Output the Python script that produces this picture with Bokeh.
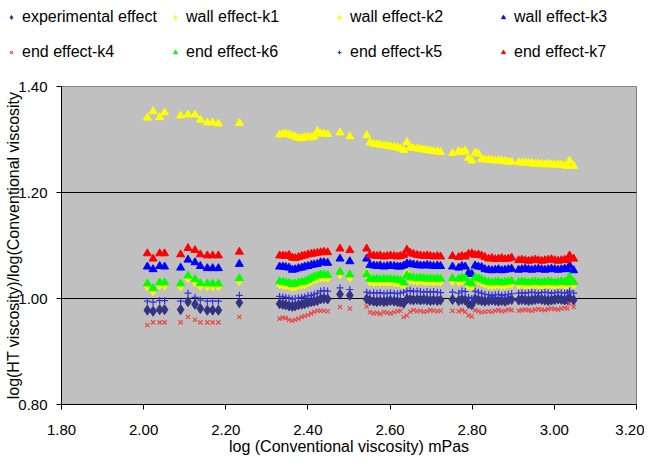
from bokeh.plotting import figure
from bokeh.layouts import column, row
from bokeh.models import Range1d, FixedTicker, NumeralTickFormatter, Legend, LegendItem
from bokeh.embed import file_html
from bokeh.resources import INLINE

# log(conventional viscosity) mPas
x_visc = [2.009, 2.023, 2.039, 2.051, 2.090, 2.108, 2.125, 2.138, 2.155, 2.168, 2.182, 2.233,
          2.331, 2.339, 2.346, 2.354, 2.362, 2.369, 2.377, 2.385, 2.392, 2.400, 2.408, 2.415, 2.423,
          2.431, 2.439, 2.448,
          2.478, 2.502,
          2.543, 2.551, 2.560, 2.568, 2.576, 2.585, 2.593, 2.601, 2.610, 2.618,
          2.625, 2.633, 2.641, 2.649, 2.657, 2.666, 2.674, 2.682, 2.690, 2.698, 2.706, 2.715, 2.723,
          2.752,
          2.767, 2.775, 2.783, 2.791, 2.799, 2.807, 2.815, 2.823, 2.831, 2.840, 2.848, 2.856, 2.864, 2.872, 2.880, 2.888, 2.896,
          2.913, 2.921, 2.929, 2.937, 2.945, 2.953, 2.961, 2.969, 2.977, 2.985, 2.993, 3.001, 3.009, 3.017, 3.025, 3.032,
          3.037, 3.047]

experimental_effect = [0.978, 0.976, 0.979, 0.979, 0.979, 0.994, 0.989, 0.981, 0.978, 0.978, 0.978, 0.992,
                       0.990, 0.989, 0.988, 0.986, 0.985, 0.986, 0.988, 0.989, 0.990, 0.992, 0.994, 0.995, 0.996,
                       0.999, 1.000, 0.999,
                       1.008, 1.006,
                       0.999, 0.996, 0.995, 0.994, 0.995, 0.994, 0.995, 0.996, 0.995, 0.994,
                       0.993, 0.991, 0.999, 0.998, 0.997, 0.998, 0.997, 0.998, 0.997, 0.996, 0.997, 0.996, 0.997,
                       0.998,
                       0.996, 0.998, 0.997, 0.990, 0.988, 0.999, 0.997, 0.996, 0.995, 0.996, 0.997, 0.996, 0.995, 0.996, 0.995, 0.997, 0.998,
                       0.997, 0.998, 0.997, 0.996, 0.997, 0.998, 0.999, 0.998, 0.997, 0.996, 0.997, 0.998, 0.999, 0.998, 0.997, 0.998,
                       1.001, 0.997]

wall_k1 = [1.024, 1.015, 1.026, 1.026, 1.024, 1.039, 1.032, 1.025, 1.024, 1.024, 1.024, 1.034,
           1.028, 1.027, 1.026, 1.025, 1.023, 1.024, 1.026, 1.027, 1.028, 1.031, 1.034, 1.037, 1.039,
           1.041, 1.041, 1.040,
           1.046, 1.041,
           1.047, 1.033, 1.032, 1.033, 1.032, 1.033, 1.032, 1.033, 1.032, 1.031,
           1.030, 1.026, 1.047, 1.036, 1.035, 1.034, 1.035, 1.034, 1.033, 1.034, 1.033, 1.034, 1.033,
           1.034,
           1.033, 1.035, 1.034, 1.026, 1.024, 1.036, 1.034, 1.032, 1.029, 1.027, 1.026, 1.027, 1.028, 1.026, 1.027, 1.028, 1.029,
           1.027, 1.028, 1.027, 1.026, 1.027, 1.028, 1.027, 1.026, 1.027, 1.028, 1.027, 1.026, 1.027, 1.028, 1.027, 1.026,
           1.037, 1.027]

wall_k2 = [1.341, 1.353, 1.342, 1.351, 1.345, 1.347, 1.347, 1.337, 1.332, 1.332, 1.330, 1.331,
           1.309, 1.310, 1.311, 1.309, 1.307, 1.305, 1.303, 1.302, 1.304, 1.305, 1.304, 1.306, 1.316,
           1.311, 1.311, 1.310,
           1.313, 1.306,
           1.308, 1.294, 1.292, 1.291, 1.290, 1.289, 1.288, 1.287, 1.286, 1.285,
           1.283, 1.280, 1.295, 1.285, 1.284, 1.283, 1.282, 1.281, 1.280, 1.279, 1.278, 1.277, 1.276,
           1.274,
           1.278, 1.276, 1.279, 1.265, 1.260, 1.275, 1.273, 1.263, 1.262, 1.262, 1.261, 1.260, 1.261, 1.260, 1.259, 1.258, 1.258,
           1.257, 1.256, 1.257, 1.256, 1.255, 1.254, 1.255, 1.254, 1.253, 1.254, 1.253, 1.252, 1.253, 1.252, 1.251, 1.250,
           1.260, 1.250]

wall_k3 = [1.060, 1.055, 1.061, 1.060, 1.058, 1.073, 1.068, 1.061, 1.057, 1.057, 1.057, 1.065,
           1.060, 1.060, 1.059, 1.058, 1.054, 1.055, 1.057, 1.058, 1.060, 1.061, 1.063, 1.064, 1.065,
           1.068, 1.068, 1.067,
           1.075, 1.070,
           1.075, 1.063, 1.062, 1.061, 1.062, 1.060, 1.061, 1.062, 1.061, 1.060,
           1.060, 1.062, 1.066, 1.065, 1.064, 1.063, 1.062, 1.062, 1.063, 1.062, 1.061, 1.062, 1.061,
           1.060,
           1.058, 1.061, 1.060, 1.048, 1.046, 1.062, 1.060, 1.059, 1.055, 1.054, 1.053, 1.054, 1.055, 1.053, 1.054, 1.055, 1.056,
           1.054, 1.055, 1.056, 1.055, 1.054, 1.055, 1.056, 1.055, 1.054, 1.055, 1.056, 1.055, 1.054, 1.055, 1.056, 1.055,
           1.062, 1.053]

end_k4 = [0.950, 0.955, 0.955, 0.955, 0.955, 0.965, 0.960, 0.955, 0.955, 0.955, 0.955, 0.965,
          0.962, 0.964, 0.963, 0.960, 0.958, 0.960, 0.962, 0.965, 0.967, 0.969, 0.972, 0.975, 0.977,
          0.977, 0.977, 0.976,
          0.984, 0.981,
          0.985, 0.974, 0.972, 0.973, 0.971, 0.974, 0.973, 0.972, 0.974, 0.976,
          0.977, 0.965, 0.968, 0.975, 0.978, 0.976, 0.977, 0.975, 0.976, 0.978, 0.977, 0.976, 0.977,
          0.977,
          0.976, 0.978, 0.975, 0.968, 0.966, 0.978, 0.976, 0.974, 0.975, 0.976, 0.975, 0.977, 0.978, 0.976, 0.977, 0.979, 0.978,
          0.977, 0.978, 0.979, 0.978, 0.977, 0.979, 0.980, 0.979, 0.978, 0.980, 0.981, 0.980, 0.979, 0.981, 0.982, 0.981,
          0.990, 0.984]

end_k6 = [1.028, 1.019, 1.030, 1.030, 1.028, 1.043, 1.036, 1.029, 1.028, 1.028, 1.028, 1.038,
          1.032, 1.031, 1.030, 1.029, 1.027, 1.028, 1.030, 1.031, 1.032, 1.035, 1.038, 1.041, 1.043,
          1.045, 1.045, 1.044,
          1.050, 1.045,
          1.046, 1.037, 1.036, 1.037, 1.036, 1.037, 1.036, 1.037, 1.036, 1.035,
          1.034, 1.030, 1.044, 1.040, 1.039, 1.038, 1.039, 1.038, 1.037, 1.038, 1.037, 1.038, 1.037,
          1.038,
          1.037, 1.039, 1.038, 1.030, 1.028, 1.040, 1.038, 1.036, 1.033, 1.031, 1.030, 1.031, 1.032, 1.030, 1.031, 1.032, 1.033,
          1.031, 1.032, 1.031, 1.030, 1.031, 1.032, 1.031, 1.030, 1.031, 1.032, 1.031, 1.030, 1.031, 1.032, 1.031, 1.030,
          1.041, 1.031]

end_k5 = [0.995, 0.993, 0.996, 0.996, 0.995, 1.010, 1.002, 0.997, 0.995, 0.995, 0.995, 1.006,
          1.004, 1.003, 1.002, 1.001, 0.999, 1.000, 1.001, 1.002, 1.003, 1.005, 1.006, 1.008, 1.010,
          1.014, 1.015, 1.014,
          1.020, 1.017,
          1.012, 1.010, 1.011, 1.010, 1.011, 1.009, 1.010, 1.011, 1.010, 1.009,
          1.010, 1.012, 1.014, 1.015, 1.013, 1.014, 1.013, 1.012, 1.013, 1.012, 1.013, 1.012, 1.011,
          1.012,
          1.010, 1.014, 1.013, 1.002, 1.000, 1.014, 1.012, 1.010, 1.008, 1.007, 1.006, 1.007, 1.008, 1.006, 1.007, 1.008, 1.009,
          1.010, 1.011, 1.010, 1.011, 1.012, 1.011, 1.010, 1.011, 1.012, 1.011, 1.010, 1.011, 1.012, 1.011, 1.010, 1.011,
          1.014, 1.010]

end_k7 = [1.085, 1.075, 1.085, 1.085, 1.083, 1.095, 1.091, 1.083, 1.081, 1.081, 1.081, 1.088,
          1.081, 1.081, 1.080, 1.082, 1.077, 1.076, 1.078, 1.080, 1.081, 1.083, 1.084, 1.085, 1.086,
          1.087, 1.088, 1.087,
          1.094, 1.091,
          1.094, 1.082, 1.081, 1.080, 1.081, 1.079, 1.080, 1.081, 1.080, 1.079,
          1.080, 1.082, 1.092, 1.086, 1.084, 1.082, 1.081, 1.080, 1.081, 1.080, 1.079, 1.080, 1.079,
          1.080,
          1.078, 1.080, 1.079, 1.084, 1.085, 1.082, 1.083, 1.081, 1.078, 1.075, 1.076, 1.074, 1.075, 1.076, 1.074, 1.075, 1.077,
          1.072, 1.073, 1.072, 1.071, 1.072, 1.073, 1.072, 1.071, 1.072, 1.073, 1.074, 1.072, 1.071, 1.072, 1.073, 1.072,
          1.081, 1.075]

x_ticks = [1.8, 2.0, 2.2, 2.4, 2.6, 2.8, 3.0, 3.2]
y_ticks = [0.8, 1.0, 1.2, 1.4]

series_labels = ["experimental effect", "wall effect-k1", "wall effect-k2", "wall effect-k3",
                 "end effect-k4", "end effect-k6", "end effect-k5", "end effect-k7"]

FONT = "Liberation Sans"

styles = {
    "experimental effect": dict(marker="diamond", size=10, fill_color="#333380", line_color="#333380"),
    "wall effect-k1": dict(marker="diamond", size=10, fill_color="#FFFF00", line_color="#FFFF00"),
    "wall effect-k2": dict(marker="triangle", size=8, fill_color="#FFFF00", line_color="#FFFF00"),
    "wall effect-k3": dict(marker="triangle", size=8, fill_color="#0000FF", line_color="#0000FF"),
    "end effect-k4": dict(marker="x", size=6, line_color="#E84848", line_width=1.2),
    "end effect-k6": dict(marker="triangle", size=8, fill_color="#00FF00", line_color="#00FF00"),
    "end effect-k5": dict(marker="cross", size=7, line_color="#3030E0", line_width=1.2),
    "end effect-k7": dict(marker="triangle", size=8, fill_color="#FF0000", line_color="#FF0000"),
}
series_values = {
    "experimental effect": experimental_effect,
    "wall effect-k1": wall_k1,
    "wall effect-k2": wall_k2,
    "wall effect-k3": wall_k3,
    "end effect-k4": end_k4,
    "end effect-k6": end_k6,
    "end effect-k5": end_k5,
    "end effect-k7": end_k7,
}
draw_order = ["experimental effect", "wall effect-k1", "wall effect-k2", "wall effect-k3",
              "end effect-k4", "end effect-k6", "end effect-k5", "end effect-k7"]

# ---------------- main chart ----------------
p = figure(width=644, height=390, output_backend="svg", toolbar_location=None,
           x_range=Range1d(1.8, 3.2), y_range=Range1d(0.8, 1.4),
           min_border_left=61, min_border_right=8, min_border_top=16, min_border_bottom=56)

p.background_fill_color = "#C0C0C0"
p.border_fill_color = "white"
p.outline_line_color = "#808080"

p.xgrid.visible = False
p.ygrid.ticker = FixedTicker(ticks=[1.0, 1.2])
p.ygrid.grid_line_color = "#000000"
p.ygrid.grid_line_width = 1

for ax, ticks in ((p.xaxis[0], x_ticks), (p.yaxis[0], y_ticks)):
    ax.ticker = FixedTicker(ticks=ticks)
    ax.formatter = NumeralTickFormatter(format="0.00")
    ax.major_label_text_font = FONT
    ax.major_label_text_font_size = "15px"
    ax.major_label_text_color = "black"
    ax.axis_line_color = "black"
    ax.major_tick_line_color = "black"
    ax.major_tick_out = 5
    ax.major_tick_in = 0
    ax.minor_tick_line_color = None
    ax.axis_label_text_font = FONT
    ax.axis_label_text_font_size = "16px"
    ax.axis_label_text_font_style = "normal"
    ax.axis_label_text_color = "black"

p.xaxis.axis_label = "log (Conventional viscosity) mPas"
p.xaxis.major_label_standoff = 15
p.xaxis.axis_label_standoff = 0
p.yaxis.axis_label = "log(HT viscosity)/log(Conventional viscosity"
p.yaxis.major_label_standoff = 9
p.yaxis.axis_label_standoff = -7

for name in draw_order:
    p.scatter(x_visc, series_values[name], **styles[name])

# ---------------- legend strip (its own small figure) ----------------
lf = figure(width=644, height=70, output_backend="svg", toolbar_location=None,
            x_range=Range1d(0, 1), y_range=Range1d(0, 1),
            x_axis_type=None, y_axis_type=None,
            min_border_left=0, min_border_right=0, min_border_top=0, min_border_bottom=0)
lf.outline_line_color = None
lf.background_fill_color = "white"
lf.border_fill_color = "white"
lf.xgrid.visible = False
lf.ygrid.visible = False

items = []
for name in series_labels:
    # same data; it lies outside this strip's ranges, so only the legend keys show
    r = lf.scatter(x_visc, series_values[name], **styles[name])
    items.append(LegendItem(label=name, renderers=[r]))

leg = Legend(items=items, orientation="horizontal", ncols=4, location=(6, 6),
             padding=0, margin=0, spacing=11, glyph_width=10, glyph_height=10,
             label_standoff=6, label_width=137, label_height=24,
             label_text_font=FONT, label_text_font_size="16px",
             label_text_color="black", border_line_color=None,
             background_fill_alpha=0)
lf.add_layout(leg, "center")

layout = column(row(lf), p, spacing=0)
open("out.html", "w").write(file_html(layout, INLINE))
